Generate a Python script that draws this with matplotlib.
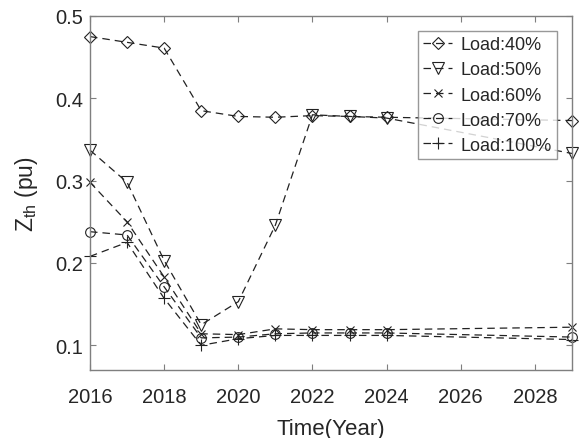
import matplotlib
matplotlib.use("Agg")
import matplotlib.pyplot as plt

plt.rcParams['font.family'] = ['Liberation Sans', 'DejaVu Sans']
plt.rcParams['mathtext.fontset'] = 'custom'
plt.rcParams['mathtext.rm'] = 'Liberation Sans'

years = [2016, 2017, 2018, 2019, 2020, 2021, 2022, 2023, 2024, 2029]
load_labels = ['Load:40%', 'Load:50%', 'Load:60%', 'Load:70%', 'Load:100%']
z40 = [0.475, 0.468, 0.461, 0.385, 0.378, 0.377, 0.379, 0.378, 0.377, 0.373]
z50 = [0.337, 0.298, 0.203, 0.125, 0.153, 0.246, 0.380, 0.378, 0.376, 0.333]
z60 = [0.298, 0.250, 0.183, 0.114, 0.113, 0.120, 0.119, 0.119, 0.119, 0.122]
z70 = [0.238, 0.234, 0.171, 0.109, 0.110, 0.114, 0.115, 0.115, 0.115, 0.110]
z100 = [0.208, 0.225, 0.157, 0.100, 0.108, 0.112, 0.112, 0.112, 0.112, 0.107]

series = [z40, z50, z60, z70, z100]
markers = ['D', 'v', 'x', 'o', '+']
msizes = [6, 8, 6, 7, 8]

fig = plt.figure(figsize=(5.81, 4.39), dpi=100)
ax = fig.add_axes([90 / 581, 68 / 439, 482 / 581, 354 / 439])

for vals, lab, mk, ms in zip(series, load_labels, markers, msizes):
    ax.plot(years, vals, linestyle=(0, (6, 4)), color='#222222', lw=0.9,
            marker=mk, markersize=ms, clip_on=False,
            markerfacecolor='none', markeredgecolor='#222222',
            markeredgewidth=0.8, label=lab)

ax.set_xlim(2016, 2029)
ax.set_ylim(0.07, 0.5)
ax.set_xticks([2016, 2018, 2020, 2022, 2024, 2026, 2028])
ax.set_yticks([0.1, 0.2, 0.3, 0.4, 0.5])
ax.set_yticklabels(['0.1', '0.2', '0.3', '0.4', '0.5'])

for s in ax.spines.values():
    s.set_color('#7f7f7f')
    s.set_linewidth(1.0)
ax.tick_params(direction='in', top=True, right=True, length=4,
               color='#7f7f7f', labelsize=14.5, labelcolor='#262626')
ax.tick_params(axis='x', pad=12)
ax.tick_params(axis='y', pad=5)

ax.set_xlabel('Time(Year)', fontsize=16, color='#262626', labelpad=9)
ax.set_ylabel(r'Z$_{\rm th}$ (pu)', fontsize=16.5, color='#262626', labelpad=11)

leg = ax.legend(loc='upper right', bbox_to_anchor=(0.969, 0.958),
                fontsize=13, frameon=True, fancybox=False,
                handlelength=1.6, handletextpad=0.45, borderpad=0.3,
                borderaxespad=0, labelspacing=0.45)
leg.get_frame().set_edgecolor('#7f7f7f')
leg.get_frame().set_linewidth(1.0)
for t in leg.get_texts():
    t.set_color('#262626')

fig.savefig('out.png', dpi=100)
